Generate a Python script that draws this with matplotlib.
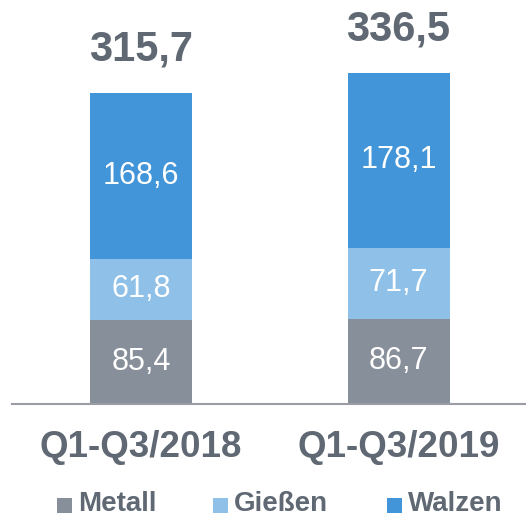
import matplotlib
matplotlib.use("Agg")
import matplotlib.pyplot as plt
from matplotlib.patches import Rectangle

categories = ["Q1-Q3/2018", "Q1-Q3/2019"]
series_names = ["Metall", "Gießen", "Walzen"]
metall = [85.4, 86.7]
giessen = [61.8, 71.7]
walzen = [168.6, 178.1]
totals = [315.7, 336.5]
colors = ["#878f9a", "#8ec0e8", "#4195d8"]
text_color = "#5f6873"

def fmt(v):
    return f"{v:.1f}".replace(".", ",")

W, H = 526, 517
fig = plt.figure(figsize=(W / 100, H / 100), dpi=100)
ax = fig.add_axes([12 / W, (H - 404) / H, 514 / W, 404 / H])
plt.rcParams['font.family'] = ['Liberation Sans', 'DejaVu Sans']

x = list(range(len(categories)))
bottom = [0.0] * len(categories)
for vals, col in zip([metall, giessen, walzen], colors):
    ax.bar(x, vals, width=0.396, bottom=bottom, color=col, linewidth=0)
    for xi, v, b in zip(x, vals, bottom):
        ax.text(xi, b + v / 2, fmt(v), ha="center", va="center",
                color="white", fontsize=22, family=['Liberation Sans'])
    bottom = [b + v for b, v in zip(bottom, vals)]

for xi, t in zip(x, totals):
    ax.annotate(fmt(t), (xi, t), xytext=(0, 31), textcoords="offset points",
                ha="center", va="center", fontsize=30, fontweight="bold",
                color=text_color, family=['Liberation Sans'])

ax.set_xlim(-0.501, 1.495)
ax.set_ylim(0, 404 / 0.985)
for s in ["top", "right", "left"]:
    ax.spines[s].set_visible(False)
ax.spines["bottom"].set_color("#9a9ea4")
ax.spines["bottom"].set_linewidth(1.5)
ax.set_yticks([])
ax.set_xticks(x)
ax.set_xticklabels(categories, fontsize=26.5, fontweight="bold", color=text_color,
                   family=['Liberation Sans'])
ax.tick_params(axis="x", length=0, pad=19)

# legend
leg_sq_x = [57, 213, 387]
for sx, name, col in zip(leg_sq_x, series_names, colors):
    fig.patches.append(Rectangle((sx / W, (H - 513) / H), 15 / W, 15 / H,
                                 transform=fig.transFigure, color=col, linewidth=0))
    fig.text((sx + 21) / W, (H - 504) / H, name, ha="left", va="center",
             fontsize=20, fontweight="bold", color=text_color,
             family=['Liberation Sans'])

fig.savefig("out.png", dpi=100)
